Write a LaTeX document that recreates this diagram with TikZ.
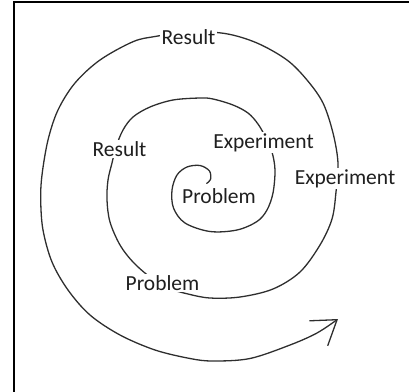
\documentclass[tikz,border=0pt]{standalone}
\usepackage{fontspec}
\setmainfont{Carlito}
\usetikzlibrary{arrows.meta}
\tikzset{
  lbl/.style={font=\fontsize{21.5bp}{24bp}\selectfont, text=black!88, anchor=base, inner sep=1.5bp},
  hid/.style={lbl, fill=white},
  spiral/.style={line width=1.3bp, draw=black!82, line cap=round, line join=round},
  frame/.style={line width=2bp, draw=black}
}
\begin{document}
\begin{tikzpicture}[x=1bp,y=-1bp]
\useasboundingbox (0,0) rectangle (409,392);
\draw[frame] (13.7,392) -- (13.7,2) -- (409,2);
\coordinate (start) at (206.7,183.3);
\coordinate (tip) at (338,319);
\draw[spiral, -{Straight Barb[length=23bp,width=31bp,line width=1.3bp]}] plot[smooth, tension=0.55] coordinates {
 (206.7,183.3) (210.5,179.5) (209.5,171) (200,165.5) (187,167) (177,175) (172,190) (173.5,208) (185,223) (210,231.5) (237,230) (257,221.5) (267,210) (273,193) (275,170) (272,152) (266,138) (258,124) (248,113) (233,105) (213,99) (200,98) (173,100) (150,107) (133,117) (123,130) (116,147) (112,163) (108,180) (107,200) (110,222) (120,245) (133,262) (150,277) (168,288) (188,294) (210,298) (240,297) (273,289) (300,272) (320,245) (332,219) (336,192) (338,163) (333,133) (323,103) (307,80) (287,60) (257,43) (225,33.5) (188,32) (155,36.5) (133,41.7) (100,60) (75,83) (58,110) (48,140) (42,175) (40.7,200) (43,230) (52,262) (68,290) (90,315) (120,335) (155,350) (190,358.5) (213,361) (250,358.5) (290,345) (317,333) (338,319)};
\node[hid] (res1) at (188.5,44.3) {Result};
\node[hid] (res2) at (119.5,156) {Result};
\node[hid] (exp1) at (263.5,148.3) {Experiment};
\node[hid] (exp2) at (345,184) {Experiment};
\node[lbl] (prob1) at (219,203.3) {Problem};
\node[hid] (prob2) at (162.5,290) {Problem};
\end{tikzpicture}
\end{document}
